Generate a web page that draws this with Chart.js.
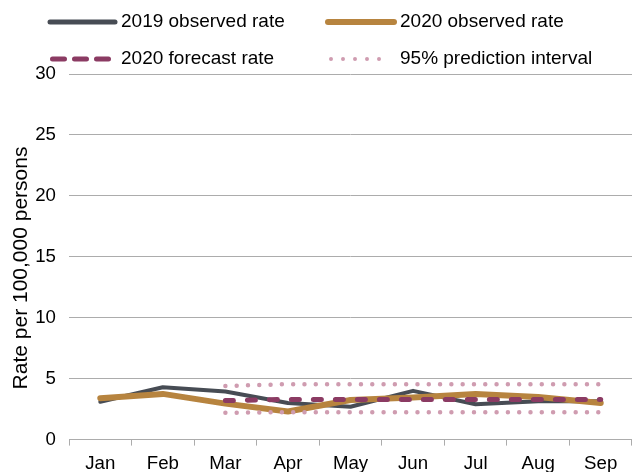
<!DOCTYPE html>
<html>
<head>
<meta charset="utf-8">
<script src="https://cdn.jsdelivr.net/npm/chart.js@4/dist/chart.umd.min.js"></script>
<style>
  html, body { margin: 0; padding: 0; background: #fff; overflow: hidden; }
  #wrap { width: 640px; height: 482px; }
</style>
</head>
<body>
<div id="wrap"><canvas id="rateChart" width="640" height="482"></canvas></div>
<script>
const months = ['Jan', 'Feb', 'Mar', 'Apr', 'May', 'Jun', 'Jul', 'Aug', 'Sep'];
const observed2019 = [3.1, 4.3, 3.95, 3.0, 2.7, 4.0, 2.9, 3.15, 3.15];
const observed2020 = [3.4, 3.75, 2.95, 2.3, 3.25, 3.45, 3.75, 3.5, 3.0];
const forecast2020 = [null, null, 3.2, 3.3, 3.3, 3.3, 3.3, 3.3, 3.3];
const upperPI = [null, null, 4.4, 4.55, 4.55, 4.55, 4.55, 4.55, 4.55];
const lowerPI = [null, null, 2.2, 2.25, 2.25, 2.25, 2.25, 2.25, 2.25];
const yTicks = [0, 5, 10, 15, 20, 25, 30];
const yTitle = 'Rate per 100,000 persons';

const GRAY = '#474c54';
const GOLD = '#b7843f';
const PLUM = '#8b3b63';
const PINK = '#cf9cb0';
const GRID = '#acacac';
const FONT = "'Liberation Sans', Arial, sans-serif";

// two-column legend above the plot, one entry per series (interval shown once)
const legendItems = [
  { label: '2019 observed rate', color: GRAY, width: 5, dash: [], x: 50, len: 65, y: 22 },
  { label: '2020 observed rate', color: GOLD, width: 6, dash: [], x: 328, len: 66, y: 22 },
  { label: '2020 forecast rate', color: PLUM, width: 5, dash: [12, 10], x: 52.5, len: 56, y: 59 },
  { label: '95% prediction interval', color: PINK, width: 4, dash: [0, 12], x: 331, len: 60, y: 59 },
];

const chartText = {
  id: 'chartText',
  afterDraw(chart) {
    const ctx = chart.ctx;
    ctx.save();
    legendItems.forEach((item) => {
      ctx.beginPath();
      ctx.strokeStyle = item.color;
      ctx.lineWidth = item.width;
      ctx.lineCap = 'round';
      ctx.setLineDash(item.dash);
      ctx.moveTo(item.x, item.y);
      ctx.lineTo(item.x + item.len, item.y);
      ctx.stroke();
    });
    ctx.setLineDash([]);
    ctx.fillStyle = '#000';
    ctx.font = '19px ' + FONT;
    ctx.textBaseline = 'middle';
    ctx.textAlign = 'left';
    legendItems.forEach((item, i) => {
      const tx = i % 2 === 0 ? 121 : 400;
      ctx.fillText(item.label, tx, item.y);
    });

    // rotated y-axis title, sitting a little below the plot's middle
    ctx.translate(21, 268);
    ctx.rotate(-Math.PI / 2);
    ctx.textAlign = 'center';
    ctx.font = '21px ' + FONT;
    ctx.fillText(yTitle, 0, 0);
    ctx.restore();
  }
};

const lineStyle = {
  pointRadius: 0,
  pointHoverRadius: 0,
  tension: 0,
  fill: false,
  borderJoinStyle: 'round',
  borderCapStyle: 'round',
};

new Chart(document.getElementById('rateChart'), {
  type: 'line',
  data: {
    labels: months,
    datasets: [
      { ...lineStyle, label: '2019 observed rate', data: observed2019, borderColor: GRAY, borderWidth: 4, order: 4 },
      { ...lineStyle, label: '2020 observed rate', data: observed2020, borderColor: GOLD, borderWidth: 6, order: 3 },
      { ...lineStyle, label: '2020 forecast rate', data: forecast2020, borderColor: PLUM, borderWidth: 5, borderDash: [8, 14], order: 2 },
      { ...lineStyle, label: '95% prediction interval', data: upperPI, borderColor: PINK, borderWidth: 4.5, borderDash: [0, 11.3], order: 1 },
      { ...lineStyle, label: '95% prediction interval', data: lowerPI, borderColor: PINK, borderWidth: 4.5, borderDash: [0, 11.3], order: 1 },
    ]
  },
  options: {
    responsive: false,
    animation: false,
    devicePixelRatio: 1,
    layout: { padding: { top: 74, left: 10, right: 8, bottom: 0 } },
    plugins: {
      legend: { display: false },
      tooltip: { enabled: false },
    },
    scales: {
      x: {
        offset: true,
        grid: {
          display: true,
          offset: true,
          drawOnChartArea: false,
          drawTicks: true,
          tickLength: 6,
          color: GRID,
        },
        border: { display: true, color: GRID, width: 1 },
        ticks: {
          color: '#000',
          padding: 7,
          maxRotation: 0,
          font: { family: FONT, size: 18.67 },
        },
      },
      y: {
        min: 0,
        max: 30,
        afterBuildTicks: (scale) => { scale.ticks = yTicks.map((v) => ({ value: v })); },
        afterFit: (scale) => { scale.width = 59; },
        grid: { color: GRID, drawTicks: false },
        border: { display: false },
        ticks: {
          color: '#000',
          padding: 13,
          font: { family: FONT, size: 18.67 },
        },
      },
    },
  },
  plugins: [chartText],
});
</script>
</body>
</html>
